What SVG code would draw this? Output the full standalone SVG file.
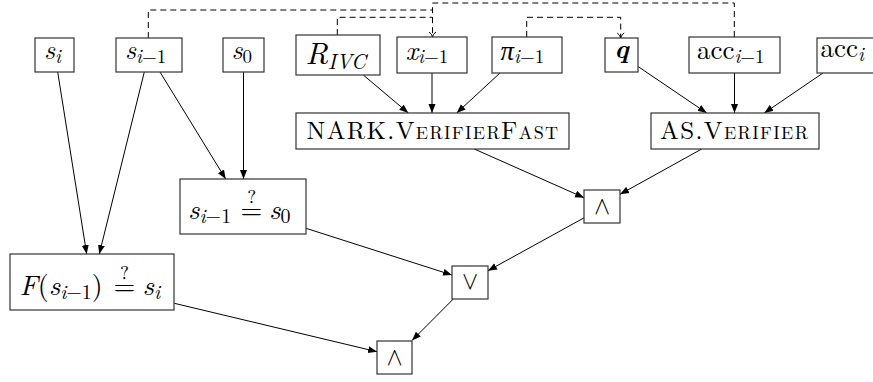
<svg xmlns="http://www.w3.org/2000/svg" width="873" height="382" viewBox="0 0 873 382">
<defs>
<marker id="ah" markerWidth="10" markerHeight="8" refX="9" refY="4" orient="auto" markerUnits="userSpaceOnUse"><path d="M0,0.5 L9,4 L0,7.5 z" fill="#000"/></marker>
<marker id="ta" markerWidth="8" markerHeight="8" refX="6" refY="4" orient="auto" markerUnits="userSpaceOnUse"><path d="M1,0.5 Q3,3.5 6,4 Q3,4.5 1,7.5" fill="none" stroke="#000" stroke-width="1"/></marker>
</defs>
<style>
rect{fill:#fff;stroke:#333;stroke-width:1.2}
text{font-family:"Latin Modern Roman","CMU Serif","Liberation Serif","Times New Roman","Noto Serif","DejaVu Serif",serif;fill:#000}
.m{font-size:27px}
.i{font-style:italic}
.sb{font-size:19px}
.b{font-size:28px}
.bs{font-size:20px}
.q{font-size:19px}
.op{font-family:"Latin Modern Math","CMU Serif","DejaVu Serif","DejaVu Sans",serif;font-size:25px}
.c line{stroke:#000;stroke-width:1;fill:none;marker-end:url(#ah)}
.c path{stroke:#000;stroke-width:1;fill:none;stroke-dasharray:6 4}
</style>
<rect width="873" height="382" style="fill:#fff;stroke:none"/>
<g class="c" id="connectors">
<path d="M148.3,38 V10 H432.5"/>
<path d="M337.3,35 V17.3 H432.5"/>
<path d="M734.3,37 V3 H432.5 V37" marker-end="url(#ta)"/>
<path d="M526.7,37 V17.3 H620.7 V38" marker-end="url(#ta)"/>
<line x1="57.7" y1="72" x2="86.7" y2="254"/>
<line x1="144.3" y1="72" x2="99.3" y2="254"/>
<line x1="160" y1="72" x2="225.7" y2="179"/>
<line x1="243.5" y1="72" x2="243.5" y2="179"/>
<line x1="363.3" y1="75" x2="408.3" y2="113"/>
<line x1="432" y1="73" x2="432" y2="113"/>
<line x1="500" y1="73" x2="456.7" y2="113"/>
<line x1="638.3" y1="66.7" x2="706.7" y2="113"/>
<line x1="734.5" y1="73" x2="734.5" y2="113"/>
<line x1="823" y1="73" x2="764.3" y2="113"/>
<line x1="474.3" y1="149" x2="584" y2="197.7"/>
<line x1="701.7" y1="149" x2="620" y2="194.3"/>
<line x1="584.3" y1="217.7" x2="488" y2="270.7"/>
<line x1="306" y1="228.3" x2="452" y2="275"/>
<line x1="453.3" y1="299" x2="412" y2="340.5"/>
<line x1="174.3" y1="303.3" x2="377" y2="351.7"/>
</g>
<g id="n-si"><rect x="35" y="38" width="39" height="34"/>
<text class="m" x="44" y="58.5"><tspan class="i">s</tspan><tspan class="sb i" dy="4">i</tspan></text></g>
<g id="n-sim1"><rect x="116" y="38" width="66" height="34"/>
<text class="m" x="125" y="58.5"><tspan class="i">s</tspan><tspan class="sb" dy="4"><tspan class="i">i</tspan>−1</tspan></text></g>
<g id="n-s0"><rect x="223" y="38" width="41" height="34"/>
<text class="m" x="231.5" y="58.5"><tspan class="i">s</tspan><tspan class="sb" dy="4">0</tspan></text></g>
<g id="n-rivc"><rect x="296" y="35" width="84" height="40"/>
<text x="305.5" y="64" style="font-size:31px;font-style:italic">R<tspan dy="5" style="font-size:21px">IVC</tspan></text></g>
<g id="n-xim1"><rect x="397" y="37" width="70" height="36"/>
<text class="m" x="405.5" y="59.5"><tspan class="i">x</tspan><tspan class="sb" dy="3.5"><tspan class="i">i</tspan>−1</tspan></text></g>
<g id="n-piim1"><rect x="492" y="37" width="70" height="36"/>
<text class="m" x="500.5" y="59.5"><tspan class="i">π</tspan><tspan class="sb" dy="3.5"><tspan class="i">i</tspan>−1</tspan></text></g>
<g id="n-q"><rect x="605" y="38" width="33" height="34"/>
<text class="m" x="621.5" y="57.5" text-anchor="middle" style="font-style:italic;font-weight:bold">q</text></g>
<g id="n-accim1"><rect x="689" y="37" width="91" height="36"/>
<text class="m" x="697" y="59"><tspan>acc</tspan><tspan class="sb" dy="3.5"><tspan class="i">i</tspan>−1</tspan></text></g>
<g id="n-acci"><rect x="817" y="38" width="70" height="35"/>
<text class="m" x="820.5" y="57"><tspan>acc</tspan><tspan class="sb i" dy="3.5">i</tspan></text></g>
<g id="n-nark"><rect x="296" y="113" width="273" height="36"/>
<text x="306.5" y="139.3" textLength="251.5" style="font-size:25px;font-variant:small-caps">NARK.VerifierFast</text></g>
<g id="n-as"><rect x="651" y="113" width="168" height="36"/>
<text x="660" y="139.3" textLength="148" style="font-size:25px;font-variant:small-caps">AS.Verifier</text></g>
<g id="n-eq0"><rect x="180" y="179" width="126" height="55"/>
<text class="b" x="188" y="219"><tspan class="i">s</tspan><tspan class="bs" dy="3.5"><tspan class="i">i</tspan>−1</tspan><tspan x="240.5" y="219">=</tspan><tspan class="i" x="269" y="219">s</tspan><tspan class="bs" dy="3.5">0</tspan></text>
<text class="q" x="251.7" y="203" text-anchor="middle">?</text></g>
<g id="n-f"><rect x="10" y="254" width="164" height="56"/>
<text class="b" x="19.5" y="295"><tspan class="i">F</tspan>(<tspan class="i">s</tspan><tspan class="bs" dy="3.5"><tspan class="i">i</tspan>−1</tspan><tspan dy="-3.5">)</tspan><tspan x="113.5" y="295">=</tspan><tspan class="i" x="142.5" y="295">s</tspan><tspan class="bs i" dy="3.5">i</tspan></text>
<text class="q" x="124.5" y="279" text-anchor="middle">?</text></g>
<g id="n-and1"><rect x="584" y="190" width="36" height="33"/>
<text class="op" x="602" y="214" text-anchor="middle">∧</text></g>
<g id="n-or"><rect x="452" y="266" width="36" height="33"/>
<text class="op" x="470" y="288.5" text-anchor="middle">∨</text></g>
<g id="n-and2"><rect x="377" y="341" width="35" height="33"/>
<text class="op" x="394.5" y="365" text-anchor="middle">∧</text></g>
</svg>
